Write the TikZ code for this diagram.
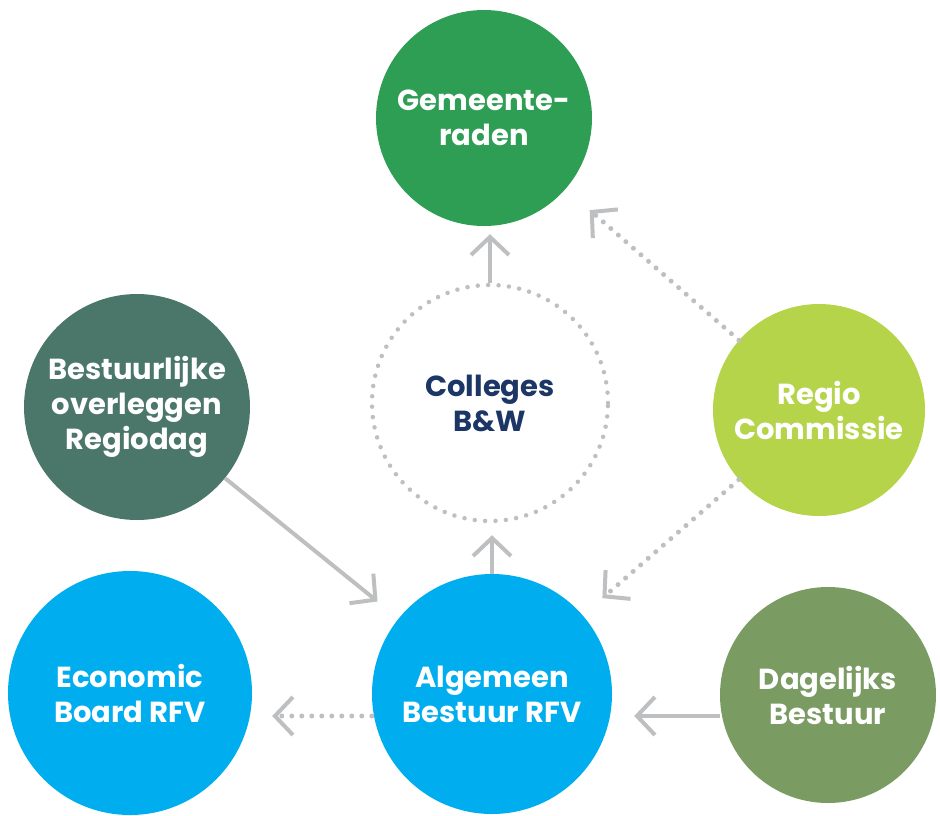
\documentclass[tikz,border=0pt]{standalone}
\usepackage{fontspec}
\setmainfont{Poppins}
\usepackage{tikz}
\usetikzlibrary{calc}
\usetikzlibrary{arrows.meta}

\definecolor{raadgreen}{RGB}{46,158,84}
\definecolor{overleggreen}{RGB}{74,119,105}
\definecolor{regiolime}{RGB}{181,212,74}
\definecolor{rfvblue}{RGB}{0,174,239}
\definecolor{dagolive}{RGB}{122,155,98}
\definecolor{linkgray}{RGB}{189,191,193}
\definecolor{collegenavy}{RGB}{28,55,101}

\begin{document}
\begin{tikzpicture}[x=1pt, y=-1pt,
		blob/.style={circle, inner sep=0pt, text=white, align=center, font=\bfseries\fontsize{29}{35}\selectfont},
		flow/.style={draw=linkgray, line width=4pt, -{Straight Barb[length=18pt, width=38pt, line width=4pt, sharp]}},
		dotflow/.style={flow, line width=5pt, line cap=round, dash pattern=on 0pt off 10pt},
		dotring/.style={draw=linkgray, line width=4.5pt, line cap=round, dash pattern=on 0pt off 10.4pt}]
		\useasboundingbox (0,0) rectangle (940,815);

		\node[blob, fill=raadgreen, minimum size=216pt] (GR) at (484,118) {Gemeente-\\raden};
		\node[blob, dotring, text=collegenavy, minimum size=236pt] (CB) at (490,403) {Colleges\\B\&W};
		\node[blob, fill=overleggreen, minimum size=226pt] (BO) at (137,407) {Bestuurlijke\\overleggen\\Regiodag};
		\node[blob, fill=regiolime, minimum size=212pt] (RC) at (819,410) {Regio\\Commissie};
		\node[blob, fill=rfvblue, minimum size=244pt] (EB) at (130,693) {Economic\\Board RFV};
		\node[blob, fill=rfvblue, minimum size=240pt] (AB) at (492,694) {Algemeen\\Bestuur RFV};
		\node[blob, fill=dagolive, minimum size=216pt] (DB) at (828,695) {Dagelijks\\Bestuur};

		\draw[flow, shorten >=8pt] (CB.north) -- (CB.north |- GR.south);
		\draw[flow, shorten >=12pt] (AB.north) -- (AB.north |- CB.south);
		\draw[dotflow, shorten >=32pt] (RC) -- (GR);
		\draw[dotflow, shorten >=26pt] (RC) -- (AB);
		\draw[flow, shorten >=27pt] (BO) -- (AB);
		\draw[dotflow, shorten >=20pt] ([yshift=-22pt]AB.west) -- ([yshift=-22pt]AB.west -| EB.east);
		\draw[flow, shorten >=22pt] ([yshift=-21pt]DB.west) -- ([yshift=-21pt]DB.west -| AB.east);
\end{tikzpicture}
\end{document}
